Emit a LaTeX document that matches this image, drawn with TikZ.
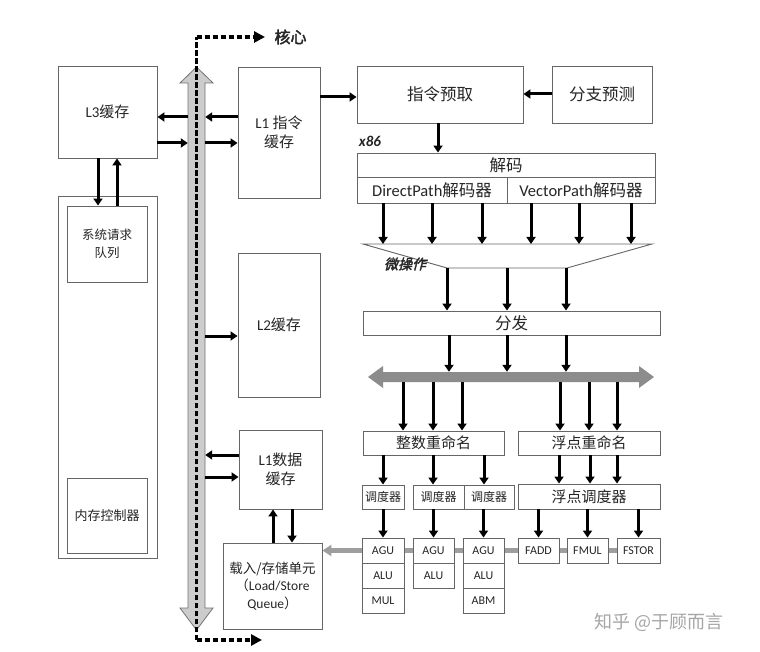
\documentclass[tikz,border=0pt]{standalone}
\usepackage{fontspec}
\setmainfont{Noto Sans CJK SC}
\newfontfamily\lat{Carlito}
\newfontfamily\cjkbf{Noto Sans CJK SC}[FakeBold=2.5]
\newfontfamily\cjkit{Noto Sans CJK SC}[FakeSlant=0.25,FakeBold=2]
\usetikzlibrary{arrows.meta,calc,backgrounds}
\pgfdeclarelayer{bottom}
\pgfdeclarelayer{top}
\pgfsetlayers{bottom,background,main,top}
\begin{document}
\begin{tikzpicture}[x=1pt,y=-1pt,
  box/.style={draw=black!60, line width=0.9pt, fill=white, inner sep=0pt, align=center, text=black!85},
  arr/.style={line width=3pt, -{Triangle[length=7pt,width=9pt]}},
  fbig/.style={font=\fontsize{16.5}{20}\selectfont},
  fmid/.style={font=\fontsize{15}{19}\selectfont},
  fl/.style={font=\fontsize{15}{19}\selectfont},
  fsm/.style={font=\fontsize{12.5}{18}\selectfont},
  fsch/.style={font=\fontsize{12}{14}\selectfont},
  funit/.style={font=\lat\fontsize{12}{13}\selectfont},
  dashline/.style={line width=3.2pt, dash pattern=on 5.5pt off 2.5pt, black}
]
\begin{pgfonlayer}{bottom}
\fill[white] (0,0) rectangle (760,652);
\end{pgfonlayer}
\useasboundingbox (0,0) rectangle (760,652);

% ---------- left column ----------
\node[box, minimum width=99pt, minimum height=92pt, fl] (L3) at (107.5,112) {{\lat L3}缓存};
\node[box, minimum width=99pt, minimum height=362pt] (mem) at (107.5,377) {};
\node[box, minimum width=80pt, minimum height=76pt, fsm] (sysq) at (107,244) {系统请求\\队列};
\node[box, minimum width=80pt, minimum height=75pt, font=\fontsize{13}{18}\selectfont] (memctl) at (107,515.5) {内存控制器};
\draw[arr] (98,0 |- L3.south) -- (98,0 |- sysq.north);
\draw[arr] (117,0 |- sysq.north) -- (117,0 |- L3.south);

% ---------- vertical bus ----------
\node[minimum width=17pt, minimum height=563pt, inner sep=0pt] (bus) at (196.5,348.5) {};
\filldraw[fill=black!20, draw=black!55, line width=0.8pt]
  (188,83) -- (180,83) -- (196.5,67) -- (213,83) -- (205,83) -- (205,608)
  -- (213,608) -- (196.5,630) -- (180,608) -- (188,608) -- cycle;
\coordinate (topc) at (196.5,37);
\coordinate (botc) at (196.5,640);
\coordinate (coreTip) at (265,37);
\coordinate (botTip) at (262,640);
\begin{pgfonlayer}{top}
\draw[dashline] (botc) -- (topc);
\draw[dashline, -{Triangle[length=11pt,width=11pt]}] (topc) -- (coreTip);
\draw[dashline, -{Triangle[length=11pt,width=11pt]}] (botc) -- (botTip);
\end{pgfonlayer}
\node[anchor=west, font=\cjkbf\fontsize{16}{18}\selectfont, text=black!85] (core) at (271,37) {核心};

% ---------- middle column ----------
\node[box, minimum width=82pt, minimum height=131pt, fl] (L1I) at (279,132.5) {{\lat L1} 指令\\缓存};
\node[box, minimum width=82pt, minimum height=144pt, fl] (L2) at (279,325) {{\lat L2}缓存};
\node[box, minimum width=83pt, minimum height=79pt, fl] (L1D) at (280.5,469.5) {{\lat L1}数据\\缓存};
\node[box, minimum width=99pt, minimum height=86pt, font=\fontsize{13.5}{17.5}\selectfont] (LS) at (272.5,586) {载入/存储单元\\（{\lat Load/Store}\\{\lat Queue}）};

\draw[arr] (bus.west |- 0,117) -- (L3.east |- 0,117);
\draw[arr] (L3.east |- 0,143) -- (bus.west |- 0,143);
\draw[arr] (L1I.west |- 0,117) -- (bus.east |- 0,117);
\draw[arr] (bus.east |- 0,143) -- (L1I.west |- 0,143);
\draw[arr] (bus.east |- 0,336) -- (L2.west |- 0,336);
\draw[arr] (L1D.west |- 0,455) -- (bus.east |- 0,455);
\draw[arr] (bus.east |- 0,477) -- (L1D.west |- 0,477);
\draw[arr] (273,0 |- LS.north) -- (273,0 |- L1D.south);
\draw[arr] (292,0 |- L1D.south) -- (292,0 |- LS.north);

% ---------- front end ----------
\node[box, minimum width=166pt, minimum height=57pt, fbig] (fetch) at (440,94.5) {指令预取};
\node[box, minimum width=100pt, minimum height=57pt, fbig] (bp) at (602,94.5) {分支预测};
\draw[arr] (L1I.east |- 0,97) -- (fetch.west |- 0,97);
\draw[arr] (bp.west |- 0,94) -- (fetch.east |- 0,94);

\node[box, minimum width=298pt, minimum height=24pt, fbig] (dec) at (506,165) {解码};
\node[box, minimum width=150pt, minimum height=26pt, fbig] (dp) at (432,190) {{\lat DirectPath}解码器};
\node[box, minimum width=148pt, minimum height=26pt, fbig] (vp) at (581,190) {{\lat VectorPath}解码器};
\draw[arr] (438,0 |- fetch.south) -- (438,0 |- dec.north);
\node[font=\lat\bfseries\itshape\fontsize{15}{18}\selectfont, text=black!85] (x86) at (370,141) {x86};

\coordinate (t1) at (363,244);
\coordinate (t2) at (652,244);
\coordinate (t3) at (567,268);
\coordinate (t4) at (447,268);
\draw[draw=black!60, line width=0.9pt] (t1) -- (t2) -- (t3) -- (t4) -- cycle;
\foreach \x in {383,432,482} \draw[arr] (\x,0 |- dp.south) -- (\x,0 |- t1);
\foreach \x in {531,579,631} \draw[arr] (\x,0 |- vp.south) -- (\x,0 |- t1);
\node[font=\cjkit\fontsize{14}{16}\selectfont, text=black!85] (uop) at (405,264) {微操作};

\node[box, minimum width=297pt, minimum height=24pt, fbig] (disp) at (511.5,323) {分发};
\foreach \x in {447,507,566} \draw[arr] (\x,0 |- t4) -- (\x,0 |- disp.north);

% ---------- horizontal bus ----------
\node[minimum width=286pt, minimum height=10pt, inner sep=0pt] (hbus) at (511,377) {};
\fill[black!45] (368,377) -- (383,366) -- (383,372) -- (639,372) -- (639,366) -- (654,377)
  -- (639,388) -- (639,382) -- (383,382) -- (383,388) -- cycle;
\foreach \x in {449,507,566} \draw[arr] (\x,0 |- disp.south) -- (\x,0 |- hbus.north);

\node[box, minimum width=141pt, minimum height=24pt, fmid] (irn) at (433.5,443) {整数重命名};
\node[box, minimum width=142pt, minimum height=24pt, fmid] (frn) at (589,443) {浮点重命名};
\foreach \x in {403,433,462} \draw[arr] (\x,0 |- hbus.south) -- (\x,0 |- irn.north);
\foreach \x in {560,589,617} \draw[arr] (\x,0 |- hbus.south) -- (\x,0 |- frn.north);

\node[box, minimum width=42pt, minimum height=24pt, fsch] (s1) at (383,497) {调度器};
\node[box, minimum width=51pt, minimum height=24pt, fsch] (s2) at (438.5,497) {调度器};
\node[box, minimum width=50pt, minimum height=24pt, fsch] (s3) at (489,497) {调度器};
\node[box, minimum width=142pt, minimum height=25pt, fmid] (fs) at (589,496.5) {浮点调度器};
\draw[arr] (383,0 |- irn.south) -- (383,0 |- s1.north);
\draw[arr] (433,0 |- irn.south) -- (433,0 |- s2.north);
\draw[arr] (484,0 |- irn.south) -- (484,0 |- s3.north);
\foreach \x in {559,590,617} \draw[arr] (\x,0 |- frn.south) -- (\x,0 |- fs.north);

% ---------- execution units ----------
\node[box, minimum width=42pt, minimum height=25pt, funit] (A1) at (383,550.5) {AGU};
\node[box, minimum width=42pt, minimum height=25pt, funit] (B1) at (383,575.5) {ALU};
\node[box, minimum width=42pt, minimum height=25pt, funit] (C1) at (383,600.5) {MUL};
\node[box, minimum width=41pt, minimum height=25pt, funit] (A2) at (433.5,550.5) {AGU};
\node[box, minimum width=41pt, minimum height=25pt, funit] (B2) at (433.5,575.5) {ALU};
\node[box, minimum width=41pt, minimum height=25pt, funit] (A3) at (483.5,550.5) {AGU};
\node[box, minimum width=41pt, minimum height=25pt, funit] (B3) at (483.5,575.5) {ALU};
\node[box, minimum width=41pt, minimum height=25pt, funit] (C3) at (483.5,600.5) {ABM};
\node[box, minimum width=41pt, minimum height=25pt, funit] (FADD) at (538.5,550.5) {FADD};
\node[box, minimum width=41pt, minimum height=25pt, funit] (FMUL) at (587.5,550.5) {FMUL};
\node[box, minimum width=43pt, minimum height=25pt, funit] (FSTOR) at (638.5,550.5) {FSTOR};

\draw[arr] (A1.north |- s1.south) -- (A1.north);
\draw[arr] (A2.north |- s2.south) -- (A2.north);
\draw[arr] (A3.north |- s3.south) -- (A3.north);
\draw[arr] (FADD.north |- fs.south) -- (FADD.north);
\draw[arr] (FMUL.north |- fs.south) -- (FMUL.north);
\draw[arr] (FSTOR.north |- fs.south) -- (FSTOR.north);

\begin{pgfonlayer}{background}
\draw[line width=4.5pt, black!38, -{Triangle[length=9pt,width=11pt]}] (FSTOR.center) -- (LS.east |- FSTOR.center);
\end{pgfonlayer}

\node[font=\fontsize{18}{20}\selectfont, text=black!35] (wm) at (659,622) {知乎 @于顾而言};
\end{tikzpicture}
\end{document}
